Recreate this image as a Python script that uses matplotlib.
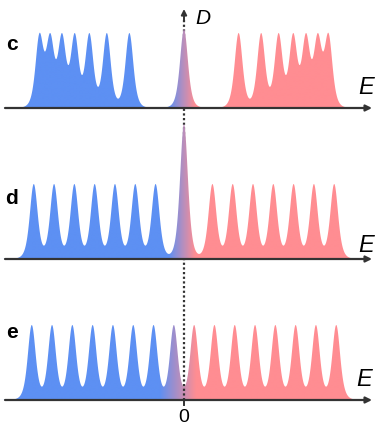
import numpy as np
import matplotlib
matplotlib.use("Agg")
import matplotlib.pyplot as plt
from matplotlib.lines import Line2D

plt.rcParams['font.family'] = ['Liberation Sans', 'DejaVu Sans']

# ---- data (energy positions of peaks, in units of level spacing) ----
panel_labels = ["c", "d", "e"]
c_blue = [-7.12, -6.59, -6.01, -5.38, -4.66, -3.80, -2.69]
c_red = [2.69, 3.80, 4.66, 5.38, 6.01, 6.59, 7.12]
c_zero = [0.0]
c_zero_height = [1.05]
d_blue = [-7.4, -6.4, -5.4, -4.4, -3.4, -2.4, -1.4]
d_red = [1.4, 2.4, 3.4, 4.4, 5.4, 6.4, 7.4]
d_zero = [0.0]
d_zero_height = [1.8]
e_blue = [-7.5, -6.5, -5.5, -4.5, -3.5, -2.5, -1.5, -0.5]
e_red = [0.5, 1.5, 2.5, 3.5, 4.5, 5.5, 6.5, 7.5]
e_zero = []
e_zero_height = []
peak_height = 1.0
axis_label = "E"
dos_label = "D"
zero_label = "0"

# ---- style / layout ----
W, H = 376, 428
X0PX, UNIT = 184.0, 20.3      # pixel of E=0, pixels per unit
YUNIT = 75.0                 # pixels per unit height
GAMMA = 0.45                 # peak width
POW = 3.0
BLUE = np.array([93, 144, 243]) / 255
RED = np.array([255, 141, 146]) / 255
AXC = "#333333"

fig = plt.figure(figsize=(W / 100, H / 100), dpi=100)

def px2x(px):
    return (px - X0PX) / UNIT

xlim = (px2x(0), px2x(W))
xs = np.linspace(xlim[0], xlim[1], 3000)

def shape(d):
    return 1.0 / (1 + (d / GAMMA) ** 2) ** POW

def dos(centers, heights):
    c = np.asarray(centers, float)
    h = np.asarray(heights, float)
    # amplitudes chosen so that the summed curve has the read height at each peak
    K = shape(c[:, None] - c[None, :])
    amp = np.linalg.solve(K, h)
    return (amp[None, :] * shape(xs[:, None] - c[None, :])).sum(axis=1)

def gradient(g0, g1):
    t = np.clip((xs - g0) / (g1 - g0), 0, 1)
    return (BLUE[None, :] * (1 - t[:, None]) + RED[None, :] * t[:, None])[None, :, :]

panels = [
    (c_blue, c_red, c_zero, c_zero_height, 0, 135, 108, 1, (-0.75, 0.55)),
    (d_blue, d_red, d_zero, d_zero_height, 118, 265, 259, 1, (-0.75, 0.55)),
    (e_blue, e_red, e_zero, e_zero_height, 265, 428, 400, 0, (-1.2, 0.6)),
]

axes = []
for i, (bl, rd, z, zh, top, bot, base, zo, gr) in enumerate(panels):
    ax = fig.add_axes([0, 1 - bot / H, 1, (bot - top) / H])
    ax.set_zorder(zo)
    ax.patch.set_alpha(0)
    centers = list(bl) + list(rd) + list(z)
    heights = [peak_height] * (len(bl) + len(rd)) + list(zh)
    y = dos(centers, heights)
    ylim = ((base - bot) / YUNIT, (base - top) / YUNIT)
    poly = ax.fill_between(xs, 0, y, color='none', lw=0)
    im = ax.imshow(gradient(*gr), extent=[xlim[0], xlim[1], 0, 2.0], aspect='auto',
                   origin='lower', interpolation='bilinear', zorder=1)
    im.set_clip_path(poly.get_paths()[0], transform=ax.transData)
    ax.set_xlim(*xlim)
    ax.set_ylim(*ylim)
    ax.axis('off')
    ax.annotate('', xy=(px2x(372), 0), xytext=(px2x(5), 0),
                arrowprops=dict(arrowstyle='-|>', color=AXC, lw=1.6,
                                mutation_scale=9, shrinkA=0, shrinkB=0),
                annotation_clip=False, zorder=3)
    axes.append(ax)

# D arrowhead on panel c
axes[0].annotate('', xy=(0, (108 - 9) / YUNIT), xytext=(0, (108 - 20) / YUNIT),
                 arrowprops=dict(arrowstyle='-|>', color=AXC, lw=1.4,
                                 mutation_scale=8, shrinkA=0, shrinkB=0),
                 annotation_clip=False, zorder=5)
# zero tick on panel e
axes[2].plot([0, 0], [0, -5 / YUNIT], color=AXC, lw=1.4, clip_on=False)

# dashed vertical line through all panels
fig.add_artist(Line2D([X0PX / W] * 2, [1 - 20 / H, 1 - 400 / H],
                      transform=fig.transFigure, color=AXC, lw=1.6,
                      ls=(0, (1, 1.1)), zorder=0.5))

def ftext(px, py, s, **kw):
    fig.text(px / W, 1 - py / H, s, ha='center', va='center', **kw)

for lab, py in zip(panel_labels, [44, 199, 333]):
    ftext(12, py, lab, fontsize=15, fontweight='bold', color='black')
for py, px in zip([87, 246, 379], [366, 366, 364]):
    ftext(px, py, axis_label, fontsize=17, fontstyle='italic', color='black')
ftext(203, 19, dos_label, fontsize=15, fontstyle='italic', color='black')
ftext(X0PX, 418, zero_label, fontsize=14, color='black')

fig.savefig("out.png", dpi=100)
